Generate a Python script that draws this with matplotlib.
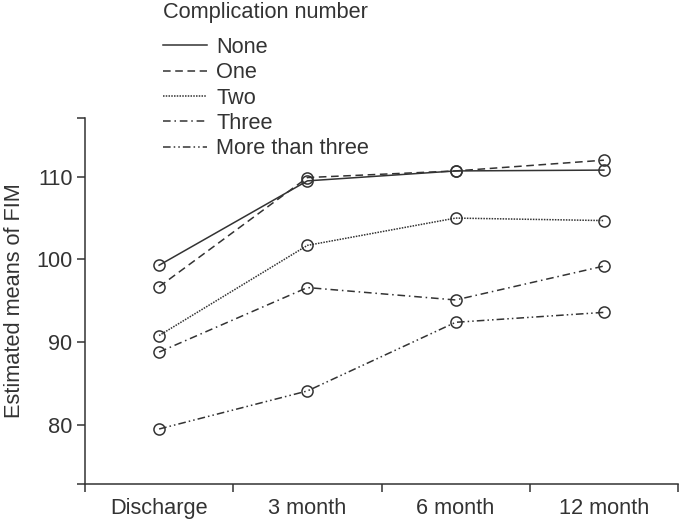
import matplotlib
matplotlib.use("Agg")
import matplotlib.pyplot as plt

categories = ["Discharge", "3 month", "6 month", "12 month"]
series_names = ["None", "One", "Two", "Three", "More than three"]
none_vals = [99.3, 109.5, 110.7, 110.8]
one_vals = [96.7, 109.9, 110.7, 112.0]
two_vals = [90.8, 101.7, 105.0, 104.7]
three_vals = [88.8, 96.6, 95.1, 99.2]
more_vals = [79.5, 84.1, 92.4, 93.6]
y_ticks = [80, 90, 100, 110]
legend_title = "Complication number"
y_label = "Estimated means of FIM"

plt.rcParams['font.family'] = ['Liberation Sans', 'DejaVu Sans']
C = '#333333'
styles = ['-', (0, (5, 3)), (0, (1, 0.8)), (0, (5, 2.5, 1, 2.5)), (0, (5, 2, 1, 2, 1, 2))]
all_vals = [none_vals, one_vals, two_vals, three_vals, more_vals]

fig = plt.figure(figsize=(6.8, 5.22), dpi=100)
ax = fig.add_axes([85/680, (522-484)/522, (678-85)/680, (484-118)/522])

x = list(range(len(categories)))
handles = []
for name, vals, ls in zip(series_names, all_vals, styles):
    h, = ax.plot(x, vals, linestyle=ls, color=C, lw=1.1, marker='o', ms=8,
                 mfc='none', mec=C, mew=1.1, label=name)
    handles.append(h)

ylo, yhi = 72.85, 117.1
ax.set_ylim(ylo, yhi)
ax.set_xlim(-0.5, len(categories) - 0.5)

ax.set_yticks([ylo] + y_ticks + [yhi])
ax.set_yticklabels([''] + [str(v) for v in y_ticks] + [''])
ax.set_xticks([i - 0.5 for i in range(len(categories) + 1)])
ax.set_xticklabels([''] * (len(categories) + 1))
ax.set_xticks(x, minor=True)
ax.set_xticklabels(categories, minor=True)
ax.tick_params(axis='x', which='minor', length=0, pad=10, labelsize=15.7, colors=C)
ax.tick_params(axis='x', which='major', length=6, width=1.1, color=C, direction='out')
ax.tick_params(axis='y', which='major', length=6, width=1.1, color=C, pad=3,
               labelsize=15.7, labelcolor=C)

for s in ['top', 'right']:
    ax.spines[s].set_visible(False)
for s in ['left', 'bottom']:
    ax.spines[s].set_color(C)
    ax.spines[s].set_linewidth(1.1)

ax.set_ylabel(y_label, fontsize=15.7, color=C, labelpad=8)

leg = fig.legend(handles=handles, labels=series_names, title=legend_title,
                 loc='upper left', bbox_to_anchor=(163/680, 1 - 2/522),
                 frameon=False, fontsize=15.7, title_fontsize=15.7,
                 handlelength=2.0, handletextpad=0.45, labelspacing=0.2,
                 borderpad=0, borderaxespad=0, alignment='left')
for line in leg.get_lines():
    line.set_marker('')
for t in leg.get_texts():
    t.set_color(C)
leg.get_title().set_color(C)
leg._legend_box.sep = 10

fig.savefig('out.png', dpi=100)
